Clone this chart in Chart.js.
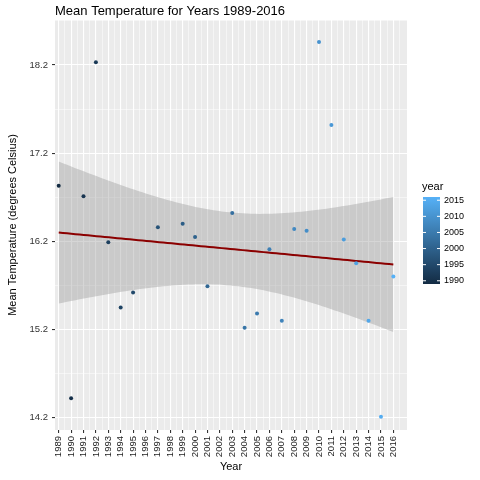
<!DOCTYPE html>
<html><head><meta charset="utf-8">
<script src="https://cdn.jsdelivr.net/npm/chart.js@4"></script>
<style>html,body{margin:0;padding:0;background:#fff}#wrap{width:480px;height:480px;position:relative}</style>
</head><body><div id="wrap"><canvas id="c" width="480" height="480"></canvas></div>
<script>
// ── Data ────────────────────────────────────────────────────────────────────
const years = [1989,1990,1991,1992,1993,1994,1995,1997,1999,2000,2001,2003,2004,2005,2006,2007,2008,2009,2010,2011,2012,2013,2014,2015,2016];
const temps = [16.83,14.42,16.71,18.23,16.19,15.45,15.62,16.36,16.40,16.25,15.69,16.52,15.22,15.38,16.11,15.30,16.34,16.32,18.46,17.52,16.22,15.95,15.30,14.21,15.80];
const yTicks = [14.2,15.2,16.2,17.2,18.2];
const xTicks = [];
for (let y = 1989; y <= 2016; y++) xTicks.push(y);
const legendTicks = [1990,1995,2000,2005,2010,2015];

const FONT = '"Liberation Sans", Arial, sans-serif';
const LOW = [19,43,67], HIGH = [86,177,247];
function yearColor(y) {
  const t = (y - 1989) / 27;
  const c = LOW.map((v, i) => Math.round(v + (HIGH[i] - v) * t));
  return `rgb(${c[0]},${c[1]},${c[2]})`;
}

// ── Linear fit + 95% band (geom_smooth method=lm) ───────────────────────────
const n = years.length;
const mx = years.reduce((a, b) => a + b, 0) / n;
const my = temps.reduce((a, b) => a + b, 0) / n;
let sxx = 0, sxy = 0;
years.forEach((x, i) => { sxx += (x - mx) ** 2; sxy += (x - mx) * (temps[i] - my); });
const slope = sxy / sxx, icpt = my - slope * mx;
let sse = 0;
years.forEach((x, i) => { sse += (temps[i] - icpt - slope * x) ** 2; });
const s = Math.sqrt(sse / (n - 2)), tq = 2.069;
const fit = [], upper = [], lower = [];
for (let k = 0; k <= 80; k++) {
  const x = 1989 + 27 * k / 80;
  const f = icpt + slope * x;
  const se = s * Math.sqrt(1 / n + (x - mx) ** 2 / sxx);
  fit.push({x, y: f}); upper.push({x, y: f + tq * se}); lower.push({x, y: f - tq * se});
}

// ── Panel background, title, legend ─────────────────────────────────────────
const decor = {
  id: 'decor',
  beforeDraw(chart) {
    const {ctx, chartArea: a} = chart;
    ctx.save(); ctx.fillStyle = '#EBEBEB';
    ctx.fillRect(a.left, a.top, a.right - a.left, a.bottom - a.top); ctx.restore();
  },
  afterDraw(chart) {
    const ctx = chart.ctx;
    ctx.save();
    ctx.fillStyle = '#000'; ctx.font = '13px ' + FONT; ctx.textBaseline = 'alphabetic';
    ctx.fillText('Mean Temperature for Years 1989-2016', 55, 15);
    ctx.font = '11px ' + FONT;
    ctx.fillText('year', 422, 190);
    const top = 197, bot = 284, bx = 423, bw = 17;
    const g = ctx.createLinearGradient(0, bot, 0, top);
    g.addColorStop(0, yearColor(1989)); g.addColorStop(1, yearColor(2016));
    ctx.fillStyle = g; ctx.fillRect(bx, top, bw, bot - top);
    ctx.font = '9px ' + FONT; ctx.textBaseline = 'middle';
    legendTicks.forEach(y => {
      const py = bot - (y - 1989) / 27 * (bot - top);
      ctx.strokeStyle = '#fff'; ctx.lineWidth = 1;
      ctx.beginPath(); ctx.moveTo(bx, py); ctx.lineTo(bx + 3, py);
      ctx.moveTo(bx + bw - 3, py); ctx.lineTo(bx + bw, py); ctx.stroke();
      ctx.fillStyle = '#000'; ctx.fillText(String(y), bx + bw + 4, py);
    });
    ctx.restore();
  }
};

const isMajorX = v => Math.abs(v - Math.round(v)) < 1e-6;
const isMajorY = v => yTicks.some(t => Math.abs(t - v) < 1e-6);

new Chart(document.getElementById('c'), {
  type: 'scatter',
  data: {
    datasets: [
      { type: 'line', data: upper, borderWidth: 0, pointRadius: 0, fill: '+1', backgroundColor: 'rgba(153,153,153,0.4)', order: 3 },
      { type: 'line', data: lower, borderWidth: 0, pointRadius: 0, fill: false, order: 3 },
      { type: 'line', data: fit, borderColor: '#8B0000', borderWidth: 2, pointRadius: 0, fill: false, order: 2 },
      { data: years.map((x, i) => ({x, y: temps[i]})), pointRadius: 2, pointBorderWidth: 0,
        pointBackgroundColor: years.map(yearColor), order: 1 }
    ]
  },
  options: {
    responsive: false, animation: false,
    layout: { padding: { left: 6, top: 20, right: 73, bottom: 6 } },
    plugins: { legend: { display: false }, tooltip: { enabled: false } },
    scales: {
      x: {
        type: 'linear', min: 1988.7, max: 2017.1,
        afterBuildTicks(sc) {
          const t = [];
          xTicks.forEach(v => { t.push({value: v}); t.push({value: v + 0.5}); });
          sc.ticks = t.filter(o => o.value <= 2017.1);
        },
        afterFit(sc) { sc.height = 44; },
        border: { display: false },
        grid: {
          color: '#fff', tickLength: 3,
          lineWidth: c => isMajorX(c.tick.value) ? 1.1 : 0.5,
          tickColor: c => isMajorX(c.tick.value) ? '#333' : 'rgba(0,0,0,0)'
        },
        ticks: {
          autoSkip: false, minRotation: 90, maxRotation: 90, padding: 3,
          color: '#222', font: { family: FONT, size: 9.5 },
          callback: v => isMajorX(v) ? String(Math.round(v)) : ''
        },
        title: { display: true, text: 'Year', color: '#000', font: { family: FONT, size: 11 }, padding: 0 }
      },
      y: {
        min: 14.06, max: 18.71,
        afterBuildTicks(sc) {
          const t = [];
          yTicks.forEach(v => { t.push({value: v}); t.push({value: v + 0.5}); });
          t.push({value: 13.7});
          sc.ticks = t.filter(o => o.value <= 18.71 && o.value >= 14.06);
        },
        afterFit(sc) { sc.width = 49; },
        border: { display: false },
        grid: {
          color: '#fff', tickLength: 3,
          lineWidth: c => isMajorY(c.tick.value) ? 1.1 : 0.5,
          tickColor: c => isMajorY(c.tick.value) ? '#333' : 'rgba(0,0,0,0)'
        },
        ticks: {
          autoSkip: false, padding: 4, color: '#333', font: { family: FONT, size: 9.5 },
          callback: v => isMajorY(v) ? v.toFixed(1) : ''
        },
        title: { display: true, text: 'Mean Temperature (degrees Celsius)', color: '#000', font: { family: FONT, size: 11 }, padding: 0 }
      }
    }
  },
  plugins: [decor]
});
</script></body></html>
